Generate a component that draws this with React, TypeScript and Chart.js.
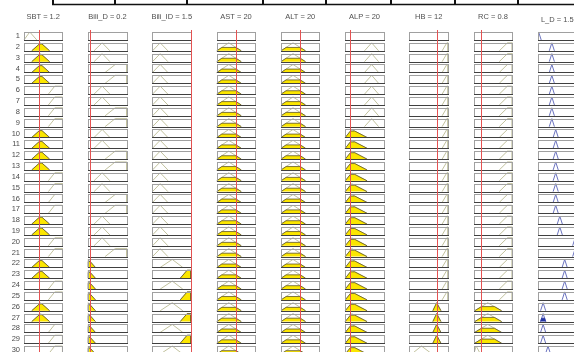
import React, { useEffect, useRef } from 'react';
import { Chart, registerables } from 'chart.js';

Chart.register(...registerables);

// ---------------- data ----------------
const variableNames = ['SBT', 'Bili_D', 'Bili_ID', 'AST', 'ALT', 'ALP', 'HB', 'RC', 'L_D'];
const crispValues = [1.2, 0.2, 1.5, 20, 20, 20, 12, 0.8, 1.5];
const rangeMin = [0, 0, 0, 0, 0, 0, 0, 0, 0];
const rangeMax = [3, 4, 1.5, 40, 40, 150, 17, 4, 3];

// membership functions: [a, b, c] = triangle, [a, b, c, d] = trapezoid
const sbtMFs = [[0, 0.45, 1.0], [0.6, 1.3, 2.0], [1.9, 2.4, 3, 3]];
const biliDMFs = [[0, 0, 0.75], [0.6, 1.45, 2.25], [1.75, 2.8, 4, 4]];
const biliIDMFs = [[0, 0.3, 0.6], [0.3, 0.77, 1.18], [1.08, 1.35, 1.5, 1.5]];
const astMFs = [[0, 12.5, 25.5]];
const altMFs = [[0, 12.5, 25.5]];
const alpMFs = [[0, 25, 85], [75, 103, 130]];
const hbMFs = [[0.9, 5.3, 10], [10.3, 12, 13.9], [14.4, 16.5, 17, 17]];
const rcMFs = [[0, 0.25, 0.7], [0.1, 1.45, 2.9], [2.65, 3.5, 4, 4]];
const ldMFs = [
  [-0.2, 0.05, 0.25], [0.2, 0.4, 0.6], [0.58, 0.78, 0.98], [0.88, 1.08, 1.28],
  [1.18, 1.38, 1.58], [1.5, 1.7, 1.9], [1.88, 2.08, 2.28], [2.7, 2.9, 3.1],
];

const ruleNumbers = [1, 2, 3, 4, 5, 6, 7, 8, 9, 10, 11, 12, 13, 14, 15, 16, 17, 18, 19, 20, 21, 22, 23, 24, 25, 26, 27, 28, 29, 30];
// membership function index used by each rule (0 = not used)
const sbtRules = [1, 2, 2, 2, 2, 3, 3, 3, 3, 2, 2, 2, 2, 3, 3, 3, 3, 2, 2, 3, 3, 2, 2, 3, 3, 2, 2, 3, 3, 3];
const biliDRules = [0, 2, 2, 3, 3, 2, 2, 3, 3, 2, 2, 3, 3, 2, 2, 3, 3, 2, 2, 2, 3, 1, 1, 1, 1, 1, 1, 1, 1, 1];
const biliIDRules = [0, 1, 1, 1, 1, 1, 1, 1, 1, 1, 1, 1, 1, 1, 1, 1, 1, 1, 1, 1, 1, 2, 3, 2, 3, 2, 3, 2, 3, 2];
const astRules = [0, 1, 1, 1, 1, 1, 1, 1, 1, 1, 1, 1, 1, 1, 1, 1, 1, 1, 1, 1, 1, 1, 1, 1, 1, 1, 1, 1, 1, 1];
const altRules = [0, 1, 1, 1, 1, 1, 1, 1, 1, 1, 1, 1, 1, 1, 1, 1, 1, 1, 1, 1, 1, 1, 1, 1, 1, 1, 1, 1, 1, 1];
const alpRules = [0, 2, 2, 2, 2, 2, 2, 2, 2, 1, 1, 1, 1, 1, 1, 1, 1, 1, 1, 1, 1, 1, 1, 1, 1, 1, 1, 1, 1, 1];
const hbRules = [0, 3, 3, 3, 3, 3, 3, 3, 3, 3, 3, 3, 3, 3, 3, 3, 3, 3, 3, 3, 3, 3, 3, 3, 3, 2, 2, 2, 2, 1];
const rcRules = [0, 3, 3, 3, 3, 3, 3, 3, 3, 3, 3, 3, 3, 3, 3, 3, 3, 3, 3, 3, 3, 3, 3, 3, 3, 2, 2, 2, 2, 1];
const ldRules = [1, 4, 4, 4, 4, 4, 4, 4, 4, 5, 5, 5, 5, 5, 5, 5, 5, 6, 6, 8, 8, 7, 7, 7, 7, 2, 2, 2, 2, 3];

const mfSets = [sbtMFs, biliDMFs, biliIDMFs, astMFs, altMFs, alpMFs, hbMFs, rcMFs, ldMFs];
const ruleSets = [sbtRules, biliDRules, biliIDRules, astRules, altRules, alpRules, hbRules, rcRules, ldRules];

// ---------------- layout & style ----------------
const CELL_W = 0.599; // share of a column occupied by a cell
const CELL_H = 0.7387; // share of a row occupied by a cell
const X_MIN = -0.3735;
const X_MAX = 8.5603;
const Y_MIN = -29.809;
const Y_MAX = 2.6934;
const OUTPUT_COL = 8;
const TABLE_DIVIDERS_PX = [53, 115, 187, 263, 326, 391, 455, 518];

const MF_LINE = '#c2c29e';
const YELLOW = '#fbe600';
const YELLOW_EDGE = '#5e5424';
const OUT_LINE = '#6c74c0';
const OUT_FILL = '#2434a4';
const RED = '#e45252';
const FONT = '"Liberation Sans", Arial, sans-serif';

type P = { x: number; y: number };

function trap(p: number[]) {
  return p.length === 3 ? [p[0], p[1], p[1], p[2]] : p;
}

function mfDegree(p: number[], v: number) {
  const [a, b, c, d] = trap(p);
  if (v < a || v > d) return 0;
  if (v < b) return b === a ? 1 : (v - a) / (b - a);
  if (v <= c) return 1;
  return d === c ? 1 : (d - v) / (d - c);
}

function mfShape(p: number[], h: number): P[] {
  const [a, b, c, d] = trap(p);
  return [
    { x: a, y: 0 },
    { x: a + (b - a) * h, y: h },
    { x: d - (d - c) * h, y: h },
    { x: d, y: 0 },
  ];
}

function clip(pts: P[], lo: number, hi: number): P[] {
  const out: P[] = [];
  for (let i = 0; i < pts.length; i++) {
    const p = pts[i];
    if (i > 0) {
      const q = pts[i - 1];
      for (const e of [lo, hi]) {
        if ((q.x - e) * (p.x - e) < 0) {
          const t = (e - q.x) / (p.x - q.x);
          out.push({ x: e, y: q.y + t * (p.y - q.y) });
        }
      }
    }
    if (p.x >= lo && p.x <= hi) out.push(p);
  }
  return out;
}

function buildDatasets() {
  const firing = ruleNumbers.map((_, ri) => {
    let f = 1;
    let used = false;
    for (let c = 0; c < OUTPUT_COL; c++) {
      const k = ruleSets[c][ri];
      if (k > 0) {
        used = true;
        f = Math.min(f, mfDegree(mfSets[c][k - 1], crispValues[c]));
      }
    }
    return used ? f : 0;
  });

  const datasets: any[] = [];
  for (let c = 0; c < variableNames.length; c++) {
    const lo = rangeMin[c];
    const hi = rangeMax[c];
    ruleNumbers.forEach((r, ri) => {
      const k = ruleSets[c][ri];
      if (k <= 0) return;
      const p = mfSets[c][k - 1];
      const map = (pt: P) => ({ x: c + ((pt.x - lo) / (hi - lo)) * CELL_W, y: -r + pt.y * CELL_H });
      const isOut = c === OUTPUT_COL;
      datasets.push({
        data: clip(mfShape(p, 1), lo, hi).map(map),
        borderColor: isOut ? OUT_LINE : MF_LINE,
        borderWidth: 1,
        fill: false,
        pointRadius: 0,
        order: 1,
      });
      const deg = isOut ? Math.min(firing[ri], 1) : mfDegree(p, crispValues[c]);
      if (deg > 0) {
        datasets.push({
          data: clip(mfShape(p, deg), lo, hi).map(map),
          borderColor: isOut ? OUT_FILL : YELLOW_EDGE,
          backgroundColor: isOut ? OUT_FILL : YELLOW,
          borderWidth: 0.8,
          fill: { value: -r },
          pointRadius: 0,
          order: 0,
        });
      }
    });
  }
  return datasets;
}

const ruleViewPlugin = {
  id: 'ruleView',
  beforeDatasetsDraw(chart: any) {
    const { ctx, scales } = chart;
    const x = scales.x;
    const y = scales.y;
    ctx.save();
    ctx.fillStyle = '#ffffff';
    for (let c = 0; c < variableNames.length; c++) {
      for (const r of ruleNumbers) {
        const l = Math.round(x.getPixelForValue(c));
        const rt = Math.round(x.getPixelForValue(c + CELL_W));
        const t = Math.round(y.getPixelForValue(-r + CELL_H));
        const b = Math.round(y.getPixelForValue(-r));
        ctx.fillRect(l, t, rt - l, b - t);
      }
    }
    ctx.restore();
  },
  afterDatasetsDraw(chart: any) {
    const { ctx, scales } = chart;
    const x = scales.x;
    const y = scales.y;
    ctx.save();
    // cell frames
    for (let c = 0; c < variableNames.length; c++) {
      for (const r of ruleNumbers) {
        const l = Math.round(x.getPixelForValue(c));
        const rt = Math.round(x.getPixelForValue(c + CELL_W));
        const t = Math.round(y.getPixelForValue(-r + CELL_H));
        const b = Math.round(y.getPixelForValue(-r));
        ctx.lineWidth = 1;
        ctx.strokeStyle = '#a0a0a0';
        ctx.strokeRect(l + 0.5, t + 0.5, rt - l, b - t);
        ctx.strokeStyle = '#404040';
        ctx.beginPath();
        ctx.moveTo(l, b + 0.5);
        ctx.lineTo(rt + 1, b + 0.5);
        ctx.stroke();
      }
    }
    // input value lines
    ctx.strokeStyle = RED;
    ctx.lineWidth = 1;
    const top = y.getPixelForValue(-1 + CELL_H) - 2;
    for (let c = 0; c < OUTPUT_COL; c++) {
      const v = (crispValues[c] - rangeMin[c]) / (rangeMax[c] - rangeMin[c]);
      const px = Math.round(x.getPixelForValue(c + v * CELL_W)) + 0.5;
      ctx.beginPath();
      ctx.moveTo(px, top);
      ctx.lineTo(px, chart.height);
      ctx.stroke();
    }
    // rule numbers
    ctx.fillStyle = '#4a4a4a';
    ctx.font = `7.5px ${FONT}`;
    ctx.textAlign = 'right';
    ctx.textBaseline = 'middle';
    const lx = x.getPixelForValue(0) - 4;
    for (const r of ruleNumbers) {
      ctx.fillText(String(r), lx, y.getPixelForValue(-r + CELL_H / 2));
    }
    // titles
    ctx.fillStyle = '#505050';
    ctx.textAlign = 'center';
    for (let c = 0; c < variableNames.length; c++) {
      const cx = x.getPixelForValue(c + CELL_W / 2);
      const ty = y.getPixelForValue(-1 + CELL_H) - 15 + (c === OUTPUT_COL ? 3 : 0);
      ctx.fillText(`${variableNames[c]} = ${crispValues[c]}`, cx, ty);
    }
    // fragment of the table above
    ctx.strokeStyle = '#111';
    ctx.lineWidth = 1.6;
    ctx.beginPath();
    ctx.moveTo(TABLE_DIVIDERS_PX[0] - 1, 4.5);
    ctx.lineTo(chart.width, 4.5);
    ctx.stroke();
    ctx.lineWidth = 2;
    for (const dx of TABLE_DIVIDERS_PX) {
      ctx.beginPath();
      ctx.moveTo(dx, 0);
      ctx.lineTo(dx, 5);
      ctx.stroke();
    }
    ctx.restore();
  },
};

export default function App() {
  const ref = useRef<HTMLCanvasElement | null>(null);
  useEffect(() => {
    if (!ref.current) return;
    const chart = new Chart(ref.current, {
      type: 'line',
      data: { datasets: buildDatasets() },
      options: {
        animation: false,
        responsive: false,
        maintainAspectRatio: false,
        events: [],
        layout: { padding: 0 },
        elements: { line: { tension: 0 }, point: { radius: 0 } },
        scales: {
          x: { type: 'linear', display: false, min: X_MIN, max: X_MAX },
          y: { type: 'linear', display: false, min: Y_MIN, max: Y_MAX },
        },
        plugins: {
          legend: { display: false },
          tooltip: { enabled: false },
          title: { display: false },
        },
      },
      plugins: [ruleViewPlugin],
    } as any);
    return () => chart.destroy();
  }, []);
  return (
    <div style={{ position: 'absolute', left: 0, top: 0, width: 574, height: 352, background: '#fff' }}>
      <canvas ref={ref} width={574} height={352} style={{ display: 'block' }} />
    </div>
  );
}
